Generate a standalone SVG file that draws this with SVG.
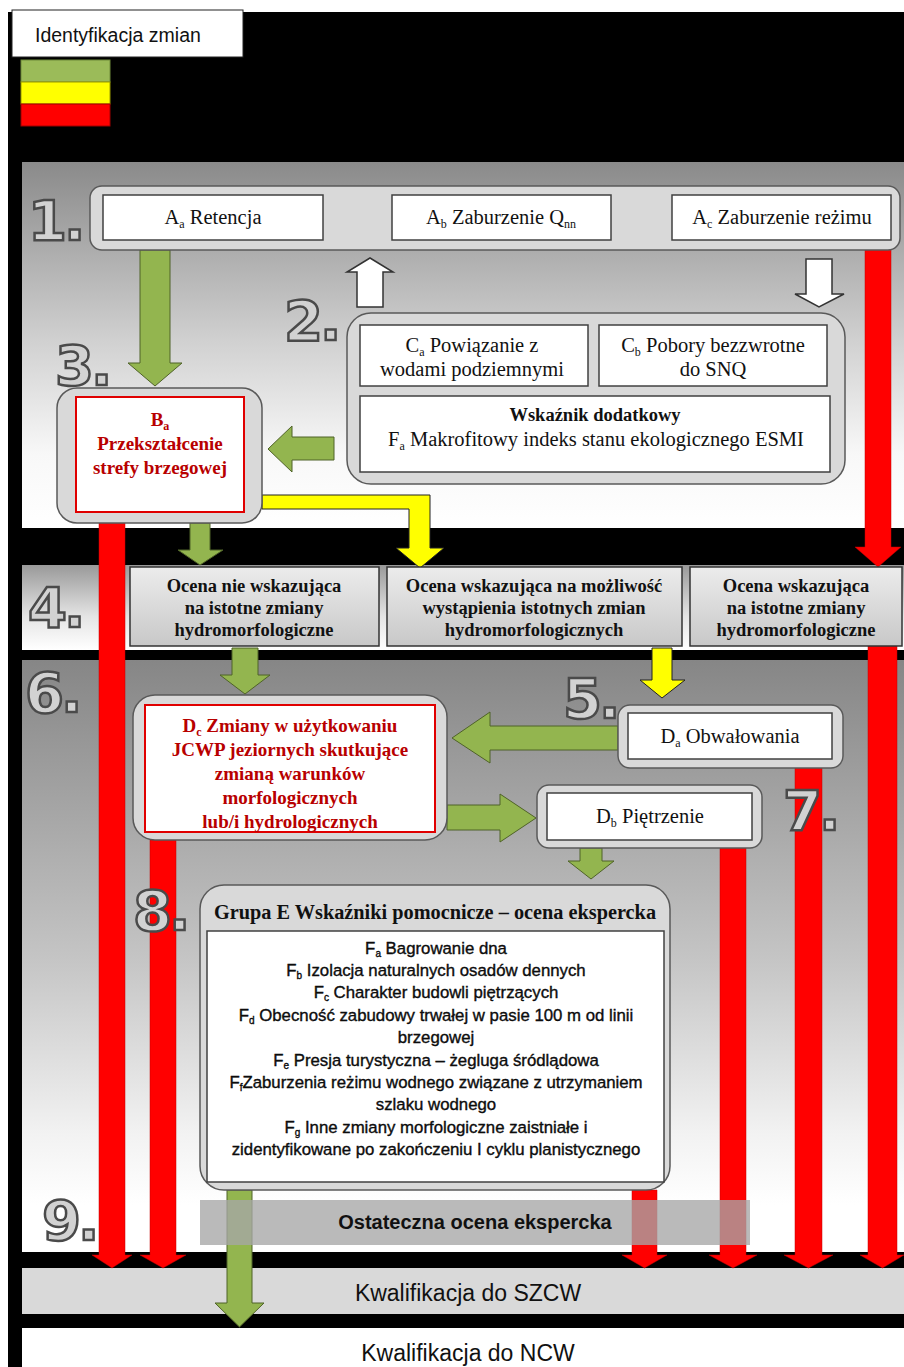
<svg xmlns="http://www.w3.org/2000/svg" width="904" height="1367" viewBox="0 0 904 1367">
<defs>
<linearGradient id="g1" x1="0" y1="0" x2="0" y2="1">
<stop offset="0" stop-color="#8a8a8a"/><stop offset="0.5" stop-color="#d2d2d2"/><stop offset="0.8" stop-color="#f8f8f8"/><stop offset="1" stop-color="#ffffff"/>
</linearGradient>
<linearGradient id="g4" x1="0" y1="0" x2="0" y2="1">
<stop offset="0" stop-color="#999999"/><stop offset="0.6" stop-color="#e4e4e4"/><stop offset="1" stop-color="#ffffff"/>
</linearGradient>
<linearGradient id="g6" x1="0" y1="0" x2="0" y2="1">
<stop offset="0" stop-color="#868686"/><stop offset="0.5" stop-color="#c4c4c4"/><stop offset="0.8" stop-color="#f2f2f2"/><stop offset="0.92" stop-color="#ffffff"/>
</linearGradient>
<linearGradient id="gb" x1="0" y1="0" x2="0" y2="1">
<stop offset="0" stop-color="#ececec"/><stop offset="1" stop-color="#c8c8c8"/>
</linearGradient>
<style>
.cont{fill:#d9d9d9;stroke:#595959;stroke-width:1.5}
.wb{fill:#ffffff;stroke:#404040;stroke-width:1.5}
.rb{fill:#ffffff;stroke:#e00000;stroke-width:2}
.b4{fill:url(#gb);stroke:#333333;stroke-width:1.5}
.ser{font-family:"Liberation Serif","Times New Roman",serif;font-size:20.5px;fill:#111;text-anchor:middle}
.serb{font-family:"Liberation Serif","Times New Roman",serif;font-weight:bold;fill:#111;text-anchor:middle}
.red{font-family:"Liberation Serif","Times New Roman",serif;font-weight:bold;font-size:19px;fill:#b80000;text-anchor:middle}
.sans{font-family:"Liberation Sans",Arial,sans-serif;fill:#111;text-anchor:middle}
.num{font-family:"DejaVu Sans","Liberation Sans",sans-serif;font-weight:bold;font-size:56px;fill:#d2d2d2;stroke:#4a4a4a;stroke-width:2.5;letter-spacing:-3px}
.ga{fill:#93b54f;stroke:#4f6228;stroke-width:1}
.ra{fill:#ff0000;stroke:#c00000;stroke-width:0.5}
.ya{fill:#ffff00;stroke:#222;stroke-width:1}
.wa{fill:#ffffff;stroke:#333;stroke-width:1.5}
</style>
</defs>

<g id="background">
<rect x="0" y="0" width="904" height="1367" fill="#ffffff"/>
<rect x="8" y="12" width="896" height="1355" fill="#000000"/>
<rect x="22" y="162" width="882" height="366" fill="url(#g1)"/>
<rect x="22" y="565" width="882" height="85" fill="url(#g4)"/>
<rect x="22" y="660" width="882" height="592" fill="url(#g6)"/>
<rect x="22" y="1268" width="882" height="46" fill="#d9d9d9"/>
<rect x="22" y="1328" width="882" height="39" fill="#ffffff"/>
</g>

<g id="legend">
<rect x="12" y="10" width="231" height="47" fill="#ffffff" stroke="#222" stroke-width="1"/>
<text x="35" y="42" class="sans" style="text-anchor:start;font-size:19.5px">Identyfikacja zmian</text>
<rect x="21" y="60" width="89" height="22" fill="#9bbb59" stroke="#6f8a3a" stroke-width="1"/>
<rect x="21" y="82" width="89" height="22" fill="#ffff00" stroke="#999900" stroke-width="1"/>
<rect x="21" y="104" width="89" height="22" fill="#ff0000" stroke="#a00000" stroke-width="1"/>
</g>

<g id="connectors">
<path class="ga" d="M140,250 H170 V363 H182 L155,386 L128,363 H140 Z"/>
<path class="wa" d="M357,307 V272 H347 L370,258 L393,272 H383 V307 Z"/>
<path class="wa" d="M806,259 H832 V294 H844 L819,307 L795,294 H806 Z"/>
<path class="ga" d="M334,437 V460 H292 V472 L268,449 L292,426 V437 Z"/>
<path class="ya" d="M262,495 H430 V548 H444 L420,568 L396,548 H409 V509 H262 Z"/>
<path class="ga" d="M190,523 H210 V550 H223 L200,565 L178,550 H190 Z"/>
<path class="ra" d="M865,248 H891 V547 H901 L878,567 L855,547 H865 Z"/>
<path class="ra" d="M99,523 H125 V1255 H132 L112,1268 L92,1255 H99 Z"/>
<path class="ga" d="M232,648 H258 V675 H270 L245,694 L220,675 H232 Z"/>
<path class="ya" d="M652,648 H672 V680 H685 L662,698 L640,680 H652 Z"/>
<path class="ga" d="M618,726 V750 H490 V763 L452,738 L490,712 V726 Z"/>
<path class="ga" d="M447,805 H500 V794 L536,818 L500,842 V830 H447 Z"/>
<path class="ga" d="M580,848 H602 V861 H614 L591,879 L568,861 H580 Z"/>
<path class="ra" d="M150,840 H176 V1255 H186 L163,1268 L140,1255 H150 Z"/>
<path class="ra" d="M632,1190 H657 V1255 H667 L644.5,1268 L622,1255 H632 Z"/>
<path class="ra" d="M720,848 H746 V1255 H757 L733,1268 L709,1255 H720 Z"/>
<path class="ra" d="M795,768 H822 V1255 H833 L808.5,1268 L784,1255 H795 Z"/>
<path class="ra" d="M868,646 H897 V1255 H904 L882.5,1268 L860,1255 H868 Z"/>
<path class="ga" d="M227,1190 H252 V1303 H264 L239.5,1327 L215,1303 H227 Z"/>
</g>

<g id="nodeA">
<rect class="cont" x="90" y="186" width="810" height="64" rx="12"/>
<rect class="wb" x="103" y="195" width="220" height="45"/>
<rect class="wb" x="392" y="195" width="219" height="45"/>
<rect class="wb" x="672" y="195" width="219" height="45"/>
<text class="ser" x="213" y="224">A<tspan font-size="12" dy="4">a</tspan><tspan dy="-4"> Retencja</tspan></text>
<text class="ser" x="501" y="224">A<tspan font-size="12" dy="4">b</tspan><tspan dy="-4"> Zaburzenie Q</tspan><tspan font-size="12" dy="4">nn</tspan></text>
<text class="ser" x="782" y="224">A<tspan font-size="12" dy="4">c</tspan><tspan dy="-4"> Zaburzenie reżimu</tspan></text>
</g>

<g id="nodeC">
<rect class="cont" x="347" y="313" width="498" height="171" rx="24"/>
<rect class="wb" x="360" y="325" width="228" height="61"/>
<rect class="wb" x="599" y="325" width="228" height="61"/>
<rect class="wb" x="360" y="396" width="470" height="76"/>
<text class="ser" x="472" y="352">C<tspan font-size="12" dy="4">a</tspan><tspan dy="-4"> Powiązanie z</tspan></text>
<text class="ser" x="472" y="376">wodami podziemnymi</text>
<text class="ser" x="713" y="352">C<tspan font-size="12" dy="4">b</tspan><tspan dy="-4"> Pobory bezzwrotne</tspan></text>
<text class="ser" x="713" y="376">do SNQ</text>
<text class="serb" x="595" y="421" font-size="18.5">Wskaźnik dodatkowy</text>
<text class="ser" x="596" y="446" font-size="21">F<tspan font-size="12" dy="4">a</tspan><tspan dy="-4"> Makrofitowy indeks stanu ekologicznego ESMI</tspan></text>
</g>

<g id="nodeB">
<rect class="cont" x="57" y="388" width="205" height="135" rx="20"/>
<rect class="rb" x="76" y="397" width="168" height="115"/>
<text class="red" x="160" y="426">B<tspan font-size="12" dy="4">a</tspan></text>
<text class="red" x="160" y="450">Przekształcenie</text>
<text class="red" x="160" y="474">strefy brzegowej</text>
</g>

<g id="row4">
<rect class="b4" x="130" y="567" width="249" height="79"/>
<rect class="b4" x="387" y="567" width="295" height="79"/>
<rect class="b4" x="690" y="567" width="212" height="79"/>
<g class="serb" font-size="18.5">
<text x="254" y="592">Ocena nie wskazująca</text>
<text x="254" y="614">na istotne zmiany</text>
<text x="254" y="636">hydromorfologiczne</text>
<text x="534" y="592">Ocena wskazująca na możliwość</text>
<text x="534" y="614">wystąpienia istotnych zmian</text>
<text x="534" y="636">hydromorfologicznych</text>
<text x="796" y="592">Ocena wskazująca</text>
<text x="796" y="614">na istotne zmiany</text>
<text x="796" y="636">hydromorfologiczne</text>
</g>
</g>

<g id="nodeDc">
<rect class="cont" x="133" y="695" width="314" height="145" rx="22"/>
<rect class="rb" x="145" y="705" width="290" height="127"/>
<g class="red" font-size="20.5">
<text x="290" y="732">D<tspan font-size="12" dy="4">c</tspan><tspan dy="-4"> Zmiany w użytkowaniu</tspan></text>
<text x="290" y="756">JCWP jeziornych skutkujące</text>
<text x="290" y="780">zmianą warunków</text>
<text x="290" y="804">morfologicznych</text>
<text x="290" y="828">lub/i hydrologicznych</text>
</g>
</g>

<g id="nodeDa">
<rect class="cont" x="618" y="705" width="225" height="63" rx="12"/>
<rect class="wb" x="628" y="713" width="204" height="46"/>
<text class="ser" x="730" y="743">D<tspan font-size="12" dy="4">a</tspan><tspan dy="-4"> Obwałowania</tspan></text>
</g>

<g id="nodeDb">
<rect class="cont" x="537" y="785" width="225" height="63" rx="12"/>
<rect class="wb" x="547" y="793" width="205" height="47"/>
<text class="ser" x="650" y="823">D<tspan font-size="12" dy="4">b</tspan><tspan dy="-4"> Piętrzenie</tspan></text>
</g>

<g id="nodeE">
<rect class="cont" x="200" y="885" width="470" height="305" rx="24"/>
<rect class="wb" x="207" y="931" width="457" height="251"/>
<text class="serb" x="435" y="919" font-size="20.3">Grupa E Wskaźniki pomocnicze – ocena ekspercka</text>
<g class="sans" font-size="16.8" fill="#000" stroke="#000" stroke-width="0.35">
<text x="436" y="954">F<tspan font-size="10" dy="3">a</tspan><tspan dy="-3"> Bagrowanie dna</tspan></text>
<text x="436" y="976">F<tspan font-size="10" dy="3">b</tspan><tspan dy="-3"> Izolacja naturalnych osadów dennych</tspan></text>
<text x="436" y="998">F<tspan font-size="10" dy="3">c</tspan><tspan dy="-3"> Charakter budowli piętrzących</tspan></text>
<text x="436" y="1021">F<tspan font-size="10" dy="3">d</tspan><tspan dy="-3"> Obecność zabudowy trwałej w pasie 100 m od linii</tspan></text>
<text x="436" y="1043">brzegowej</text>
<text x="436" y="1066">F<tspan font-size="10" dy="3">e</tspan><tspan dy="-3"> Presja turystyczna – żegluga śródlądowa</tspan></text>
<text x="436" y="1088">F<tspan font-size="10" dy="3">f</tspan><tspan dy="-3">Zaburzenia reżimu wodnego związane z utrzymaniem</tspan></text>
<text x="436" y="1110">szlaku wodnego</text>
<text x="436" y="1133">F<tspan font-size="10" dy="3">g</tspan><tspan dy="-3"> Inne zmiany morfologiczne zaistniałe i</tspan></text>
<text x="436" y="1155">zidentyfikowane po zakończeniu I cyklu planistycznego</text>
</g>
</g>

<g id="nodeFinal">
<rect x="200" y="1200" width="550" height="45" fill="#a6a6a6" opacity="0.78"/>
<text class="sans" x="475" y="1229" font-size="20" font-weight="bold" fill="#222">Ostateczna ocena ekspercka</text>
</g>

<g id="nodeSZCW">
<text class="sans" x="468" y="1301" font-size="23" fill="#333">Kwalifikacja do SZCW</text>
</g>

<g id="nodeNCW">
<text class="sans" x="468" y="1361" font-size="23" fill="#333">Kwalifikacja do NCW</text>
</g>

<g id="numbers">
<text class="num" x="28" y="240">1.</text>
<text class="num" x="284" y="340">2.</text>
<text class="num" x="55" y="385">3.</text>
<text class="num" x="28" y="627">4.</text>
<text class="num" x="563" y="718">5.</text>
<text class="num" x="25" y="712">6.</text>
<text class="num" x="783" y="830">7.</text>
<text class="num" x="133" y="930">8.</text>
<text class="num" x="42" y="1240">9.</text>
</g>
</svg>
